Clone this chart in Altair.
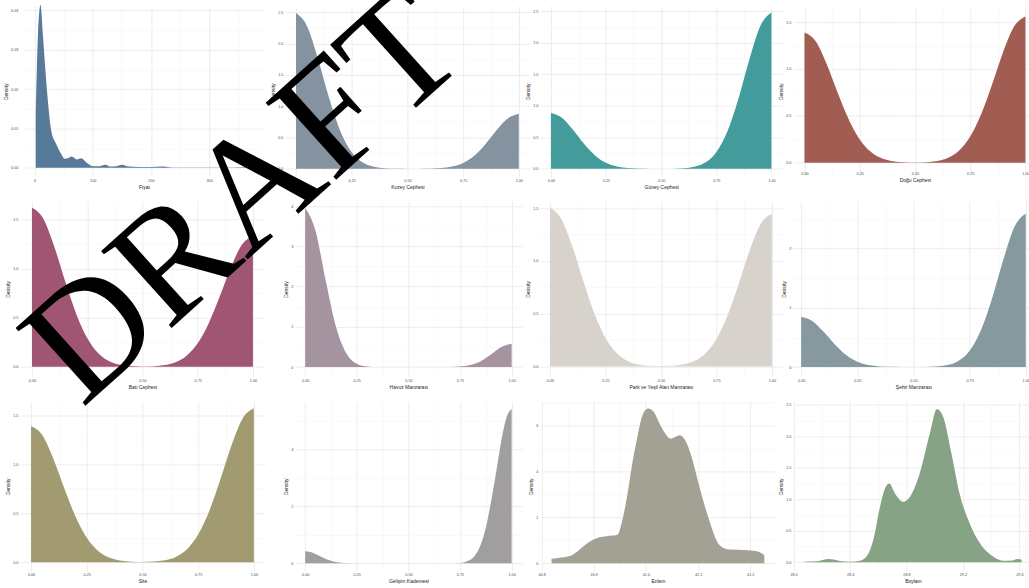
import json
import altair as alt
import pandas as pd

# ---------------- data ----------------
FIYAT_X = [2, 4, 6.3, 10.3, 14.3, 18.3, 22.9, 28.6, 37, 45.7, 51.4, 57, 62.9, 68.6, 72.6, 80, 88.6,
           100, 111, 121.7, 131, 140, 150, 163, 180, 200, 220, 237, 283, 340, 371, 374]
FIYAT_Y = [0.0132, 0.0255, 0.0356, 0.0414, 0.0339, 0.0255, 0.017, 0.0095, 0.0061, 0.0035, 0.0023,
           0.0024, 0.0029, 0.0025, 0.0021, 0.0024, 0.0014, 0.0004, 0.0004, 0.0008, 0.0003, 0.0004,
           0.0008, 0.0003, 0.0002, 0.0002, 0.0003, 0.0001, 0.0001, 0.0001, 0.0002, 0.0001]

BIN_X = [0.0, 0.05, 0.1, 0.15, 0.2, 0.25, 0.3, 0.35, 0.4, 0.45, 0.5,
         0.55, 0.6, 0.65, 0.7, 0.75, 0.8, 0.85, 0.9, 0.95, 1.0]
KUZEY_Y = [2.49, 2.276, 1.738, 1.111, 0.593, 0.264, 0.098, 0.031, 0.008, 0.002, 0.0004,
           0.0007, 0.0028, 0.0108, 0.0348, 0.0933, 0.209, 0.392, 0.614, 0.804, 0.88]
GUNEY_Y = [0.885, 0.809, 0.618, 0.395, 0.211, 0.094, 0.035, 0.011, 0.0028, 0.0007, 0.0004,
           0.0017, 0.0079, 0.0305, 0.098, 0.263, 0.590, 1.106, 1.731, 2.267, 2.48]
DOGU_Y = [1.39, 1.298, 1.056, 0.749, 0.464, 0.250, 0.118, 0.048, 0.0173, 0.0058, 0.0031,
          0.0063, 0.0193, 0.0541, 0.132, 0.281, 0.521, 0.841, 1.186, 1.457, 1.56]
BATI_Y = [1.62, 1.513, 1.231, 0.873, 0.541, 0.292, 0.137, 0.056, 0.020, 0.0066, 0.0031,
          0.0055, 0.0165, 0.0462, 0.113, 0.239, 0.444, 0.717, 1.011, 1.242, 1.33]
HAVUZ_Y = [3.95, 3.385, 2.129, 0.984, 0.335, 0.083, 0.015, 0.002, 0.0003, 0.0, 0.0,
           0.0, 0.0, 0.0003, 0.0022, 0.0122, 0.049, 0.144, 0.313, 0.497, 0.58]
PARK_Y = [1.50, 1.401, 1.140, 0.809, 0.501, 0.270, 0.127, 0.052, 0.0187, 0.0062, 0.0031,
          0.0060, 0.0179, 0.0502, 0.1225, 0.260, 0.483, 0.779, 1.099, 1.351, 1.446]
SEHIR_Y = [0.85, 0.777, 0.593, 0.379, 0.202, 0.090, 0.034, 0.0105, 0.0027, 0.0008, 0.0004,
           0.0018, 0.0083, 0.0319, 0.102, 0.275, 0.616, 1.155, 1.808, 2.367, 2.59]
SITE_Y = [1.39, 1.298, 1.056, 0.749, 0.464, 0.250, 0.118, 0.048, 0.0174, 0.0058, 0.0031,
          0.0064, 0.0195, 0.0545, 0.133, 0.283, 0.524, 0.846, 1.193, 1.466, 1.57]

GELISIM_X = [0.0, 0.025, 0.05, 0.075, 0.1, 0.125, 0.15, 0.175, 0.2, 0.25, 0.3, 0.4, 0.5, 0.6,
             0.7, 0.75, 0.8, 0.825, 0.85, 0.875, 0.9, 0.925, 0.95, 0.975, 1.0]
GELISIM_Y = [0.42, 0.394, 0.326, 0.237, 0.151, 0.085, 0.042, 0.018, 0.007, 0.0007, 0.0, 0.0,
             0.0, 0.0, 0.0001, 0.0092, 0.12, 0.30, 0.65, 1.25, 2.15, 3.2, 4.3, 5.12, 5.43]

ENLEM_X = [40.819, 40.838, 40.857, 40.873, 40.889, 40.908, 40.924, 40.936, 40.946, 40.955,
           40.965, 40.974, 40.984, 40.993, 41.004, 41.016, 41.025, 41.038, 41.047, 41.057,
           41.065, 41.076, 41.086, 41.098, 41.111, 41.124, 41.136, 41.149, 41.162, 41.187,
           41.206, 41.219, 41.227]
ENLEM_Y = [0.20, 0.25, 0.34, 0.60, 0.89, 1.11, 1.18, 1.21, 1.26, 1.91, 3.08, 4.39, 5.56, 6.44,
           6.76, 6.58, 6.15, 5.64, 5.45, 5.53, 5.59, 5.34, 4.76, 3.74, 2.64, 1.69, 0.96, 0.67,
           0.60, 0.58, 0.54, 0.47, 0.35]

BOYLAM_X = [28.075, 28.165, 28.247, 28.318, 28.40, 28.47, 28.518, 28.565, 28.612, 28.647,
            28.678, 28.718, 28.776, 28.824, 28.894, 28.965, 29.016, 29.059, 29.118, 29.176,
            29.247, 29.318, 29.412, 29.482, 29.553, 29.588, 29.616]
BOYLAM_Y = [0.01, 0.016, 0.05, 0.026, 0.01, 0.026, 0.095, 0.36, 0.88, 1.17, 1.25, 1.09, 0.96,
            1.04, 1.41, 2.04, 2.43, 2.31, 1.73, 1.09, 0.62, 0.31, 0.095, 0.026, 0.03, 0.05, 0.04]

TITLES = ["Fiyat", "Kuzey Cephesi", "Güney Cephesi", "Doğu Cephesi",
          "Batı Cephesi", "Havuz Manzarası", "Park ve Yeşil Alan Manzarası", "Şehir Manzarası",
          "Site", "Gelişim Kademesi", "Enlem", "Boylam"]
COLORS = ["#587a9a", "#8593a0", "#439c9b", "#a15d52",
          "#a05573", "#a5939f", "#d8d2cd", "#85999f",
          "#a29a70", "#a09e9e", "#a3a193", "#87a386"]

UNIT_MAJ = [0.0, 0.25, 0.5, 0.75, 1.0]
UNIT_MIN = [0.125, 0.375, 0.625, 0.875]
WATERMARK = "DRAFT"

MAJ_C, MIN_C = "#e9e9e9", "#f3f3f3"
COL_W = [256, 246, 244, 244]
ROW_H = [171, 176, 170]


def test_expr(vals):
    return "indexof(" + json.dumps(vals) + ", datum.value) >= 0"


def make_axis(title, maj, mnr, fmt, offset=0):
    t = test_expr(maj)
    kw = dict(
        title=title,
        values=maj + mnr,
        labelExpr=t + " ? format(datum.value, '" + fmt + "') : ''",
        gridColor={"condition": {"test": t, "value": MAJ_C}, "value": MIN_C},
        gridWidth={"condition": {"test": t, "value": 0.8}, "value": 0.5},
        labelFlush=False,
        labelOverlap=False,
    )
    if offset:
        kw["offset"] = offset
    return alt.Axis(**kw)


def panel(i, xs, ys, xdom, xrng, ydom, xmaj, xmin, xfmt, ymaj, ymin, yfmt,
          col, row, xoff=0, yoff=0, extra=()):
    df = pd.DataFrame({"x": xs, "y": ys})
    area = alt.Chart(df).mark_area(color=COLORS[i], interpolate="monotone", opacity=1).encode(
        x=alt.X("x:Q", scale=alt.Scale(domain=xdom, range=xrng, nice=False, zero=False),
                axis=make_axis(TITLES[i], xmaj, xmin, xfmt, xoff)),
        y=alt.Y("y:Q", scale=alt.Scale(domain=ydom, nice=False, zero=False),
                axis=make_axis("Density", ymaj, ymin, yfmt, yoff)),
    )
    layers = [area] + list(extra)
    ch = alt.layer(*layers) if len(layers) > 1 else area
    return ch.properties(width=COL_W[col], height=ROW_H[row])


one = pd.DataFrame({"k": [0]})
anchor = alt.Chart(one).mark_rect(color="white").encode(
    x=alt.value(-150), x2=alt.value(-149), y=alt.value(-150), y2=alt.value(-149))
# watermark centre is given relative to the last panel (origin at page 796, 403)
stamp = alt.Chart(one).mark_text(
    text=WATERMARK, font="Liberation Serif", fontSize=160, angle=318, color="black",
    align="center", baseline="middle").encode(x=alt.value(245 - 796), y=alt.value(199 - 403))

Y05 = ([0.0, 0.5, 1.0, 1.5], [0.25, 0.75, 1.25])
Y25 = ([0.0, 0.5, 1.0, 1.5, 2.0, 2.5], [0.25, 0.75, 1.25, 1.75, 2.25])

panels = [
    panel(0, FIYAT_X, FIYAT_Y, [-16.6, 392.6], [5, 244], [-0.0022, 0.04109],
          [0, 100, 200, 300], [50, 150, 250, 350], "d",
          [0.0, 0.01, 0.02, 0.03, 0.04], [0.005, 0.015, 0.025, 0.035], ".2f", 0, 0,
          extra=[anchor]),
    panel(1, BIN_X, KUZEY_Y, [-0.05, 1.05], [0, 246], [-0.1234, 2.601],
          UNIT_MAJ, UNIT_MIN, ".2f", Y25[0], Y25[1], ".1f", 1, 0),
    panel(2, BIN_X, GUNEY_Y, [-0.05, 1.05], [0, 243.5], [-0.1224, 2.5795],
          UNIT_MAJ, UNIT_MIN, ".2f", Y25[0], Y25[1], ".1f", 2, 0),
    panel(3, BIN_X, DOGU_Y, [-0.05, 1.05], [0.5, 244.5], [-0.145, 1.67],
          UNIT_MAJ, UNIT_MIN, ".2f", Y05[0], Y05[1], ".1f", 3, 0, xoff=-7),
    panel(4, BIN_X, BATI_Y, [-0.05, 1.05], [1, 245], [-0.1015, 1.6853],
          UNIT_MAJ, UNIT_MIN, ".2f", Y05[0], Y05[1], ".1f", 0, 1),
    panel(5, BIN_X, HAVUZ_Y, [-0.05, 1.05], [10, 238], [-0.240, 4.116],
          UNIT_MAJ, UNIT_MIN, ".2f", [0, 1, 2, 3, 4], [0.5, 1.5, 2.5, 3.5], "d", 1, 1, yoff=-10),
    panel(6, BIN_X, PARK_Y, [-0.05, 1.05], [-1, 244], [-0.0972, 1.563],
          UNIT_MAJ, UNIT_MIN, ".2f", Y05[0], Y05[1], ".1f", 2, 1),
    panel(7, BIN_X, SEHIR_Y, [-0.05, 1.05], [-3, 245], [-0.163, 2.795],
          UNIT_MAJ, UNIT_MIN, ".2f", [0, 1, 2], [0.5, 1.5, 2.5], "d", 3, 1),
    panel(8, BIN_X, SITE_Y, [-0.05, 1.05], [0, 246], [-0.0884, 1.639],
          UNIT_MAJ, UNIT_MIN, ".2f", Y05[0], Y05[1], ".1f", 0, 2),
    panel(9, GELISIM_X, GELISIM_Y, [-0.05, 1.05], [10, 238], [-0.271, 5.68],
          UNIT_MAJ, UNIT_MIN, ".2f", [0, 2, 4], [1, 3, 5], "d", 1, 2, yoff=-10),
    panel(10, ENLEM_X, ENLEM_Y, [40.7986, 41.2474], [1, 236], [-0.337, 7.065],
          [40.8, 40.9, 41.0, 41.1, 41.2], [40.85, 40.95, 41.05, 41.15], ".1f",
          [0, 2, 4, 6], [1, 3, 5, 7], "d", 2, 2),
    panel(11, BOYLAM_X, BOYLAM_Y, [27.998, 29.693], [0.5, 240.5], [-0.137, 2.548],
          [28.0, 28.4, 28.8, 29.2, 29.6], [28.2, 28.6, 29.0, 29.4], ".1f",
          Y25[0], Y25[1], ".1f", 3, 2, extra=[stamp]),
]

chart = alt.concat(*panels, columns=4, spacing={"row": 25, "column": 10}, bounds="flush").properties(
    padding={"left": -130, "top": -145, "right": -11, "bottom": 0},
    background="white",
).configure_view(strokeWidth=0).configure_axis(
    domain=False,
    ticks=False,
    labelFont="Liberation Sans",
    labelFontSize=3.8,
    labelColor="#4d4d4d",
    labelPadding=2,
    titleFont="Liberation Sans",
    titleFontSize=5,
    titleFontWeight="normal",
    titleColor="#222222",
    titlePadding=2,
)

chart.save("out.html", embed_options={"renderer": "svg", "actions": False})
